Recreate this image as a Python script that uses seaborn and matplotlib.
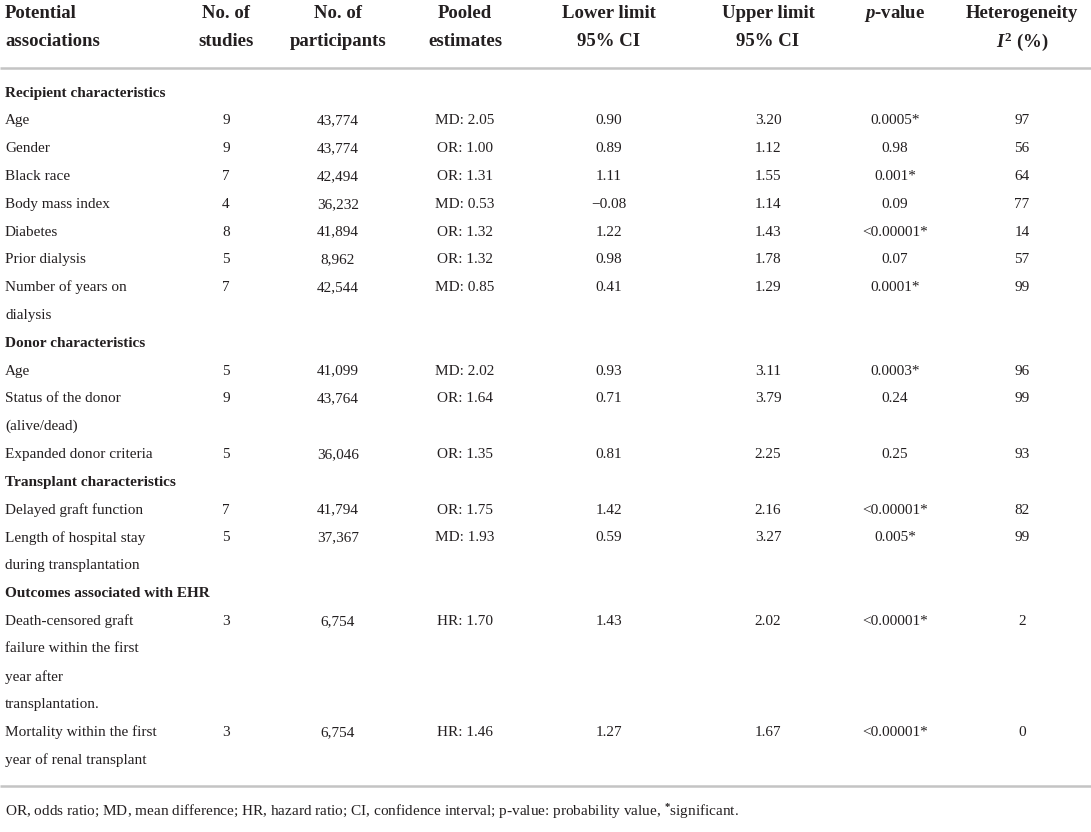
import matplotlib
matplotlib.use("Agg")
import matplotlib.pyplot as plt
import seaborn as sns
import pandas as pd

# table content
headers = ["Potential\nassociations", "No. of\nstudies", "No. of\nparticipants", "Pooled\nestimates",
           "Lower limit\n95% CI", "Upper limit\n95% CI", "$p$-value", "Heterogeneity\n$I^{2}$ (%)"]
sections = ["Recipient characteristics", "Donor characteristics",
            "Transplant characteristics", "Outcomes associated with EHR"]
section_of_row = [0, 0, 0, 0, 0, 0, 0, 1, 1, 1, 2, 2, 3, 3]
labels = ["Age", "Gender", "Black race", "Body mass index", "Diabetes", "Prior dialysis",
          "Number of years on\ndialysis",
          "Age", "Status of the donor\n(alive/dead)", "Expanded donor criteria",
          "Delayed graft function", "Length of hospital stay\nduring transplantation",
          "Death-censored graft\nfailure within the first\nyear after\ntransplantation.",
          "Mortality within the first\nyear of renal transplant"]
studies = [9, 9, 7, 4, 8, 5, 7, 5, 9, 5, 7, 5, 3, 3]
participants = ["43,774", "43,774", "42,494", "36,232", "41,894", "8,962", "42,544",
                "41,099", "43,764", "36,046", "41,794", "37,367", "6,754", "6,754"]
pooled = ["MD: 2.05", "OR: 1.00", "OR: 1.31", "MD: 0.53", "OR: 1.32", "OR: 1.32", "MD: 0.85",
          "MD: 2.02", "OR: 1.64", "OR: 1.35", "OR: 1.75", "MD: 1.93", "HR: 1.70", "HR: 1.46"]
lower = ["0.90", "0.89", "1.11", "\u22120.08", "1.22", "0.98", "0.41",
         "0.93", "0.71", "0.81", "1.42", "0.59", "1.43", "1.27"]
upper = ["3.20", "1.12", "1.55", "1.14", "1.43", "1.78", "1.29",
         "3.11", "3.79", "2.25", "2.16", "3.27", "2.02", "1.67"]
pvalue = ["0.0005*", "0.98", "0.001*", "0.09", "<0.00001*", "0.07", "0.0001*",
          "0.0003*", "0.24", "0.25", "<0.00001*", "0.005*", "<0.00001*", "<0.00001*"]
i2 = [97, 56, 64, 77, 14, 57, 99, 96, 99, 93, 82, 99, 2, 0]
footnote = ("OR, odds ratio; MD, mean difference; HR, hazard ratio; CI, confidence interval; "
            "p-value: probability value, $^{*}$significant.")

df = pd.DataFrame({"label": labels, "studies": studies, "participants": participants,
                   "pooled": pooled, "lower": lower, "upper": upper, "p": pvalue, "i2": i2,
                   "section": section_of_row})

sns.set_theme(style="white")
plt.rcParams["font.family"] = ["Liberation Serif", "DejaVu Serif"]
plt.rcParams["mathtext.fontset"] = "custom"
plt.rcParams["mathtext.it"] = "Liberation Serif:italic:bold"
plt.rcParams["mathtext.rm"] = "Liberation Serif:bold"
plt.rcParams["mathtext.bf"] = "Liberation Serif:bold"

ink = "#231f20"
col_x = [5, 226, 338, 465, 609, 768, 895, 1022]
fig = plt.figure(figsize=(10.91, 8.32), dpi=100)
ax = fig.add_axes([0, 0, 1, 1])
ax.set_xlim(0, 1091)
ax.set_ylim(832, 0)
ax.axis("off")

# header
for j, h in enumerate(headers):
    ha = "left" if j == 0 else "center"
    for k, t in enumerate(h.split("\n")):
        ax.text(col_x[j], 13 + 29 * k, t, ha=ha, va="center", fontsize=13.5,
                fontweight="bold", color=ink)

ax.plot([0, 1091], [68, 68], color="#c4c4c4", lw=1.8, solid_capstyle="butt")

pitch = 27.8
y = 93.0
cur = -1
for _, r in df.iterrows():
    if r["section"] != cur:
        cur = r["section"]
        ax.text(col_x[0], y, sections[cur], ha="left", va="center", fontsize=11,
                fontweight="bold", color=ink)
        y += pitch
    lab_lines = r["label"].split("\n")
    for k, t in enumerate(lab_lines):
        ax.text(col_x[0], y + pitch * k, t, ha="left", va="center", fontsize=11, color=ink)
    vals = [r["studies"], r["participants"], r["pooled"], r["lower"], r["upper"], r["p"], r["i2"]]
    for j, v in enumerate(vals, start=1):
        ax.text(col_x[j], y, str(v), ha="center", va="center", fontsize=11, color=ink)
    y += pitch * len(lab_lines)

ax.plot([0, 1091], [786, 786], color="#c4c4c4", lw=1.8, solid_capstyle="butt")
ax.text(col_x[0], 812, footnote, ha="left", va="center", fontsize=11, color=ink)

fig.savefig("out.png", dpi=100)
